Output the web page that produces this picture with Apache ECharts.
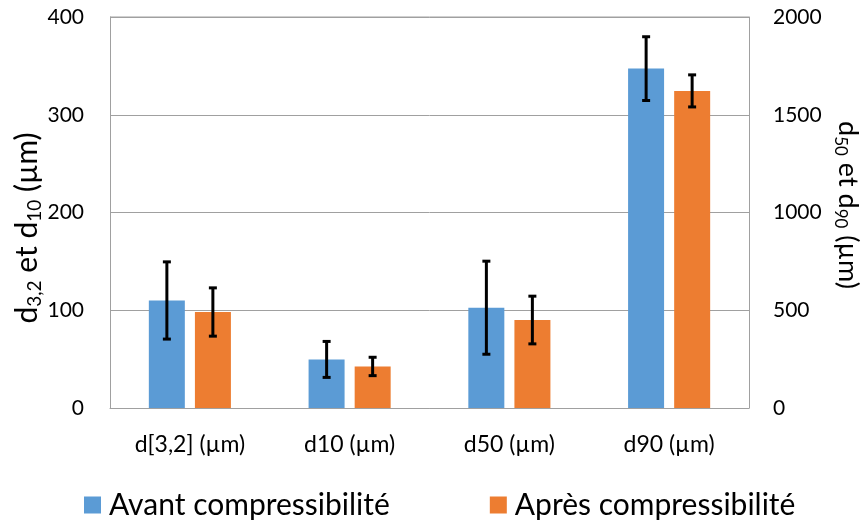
<!DOCTYPE html>
<html>
<head>
<meta charset="utf-8">
<script src="https://cdn.jsdelivr.net/npm/echarts@6/dist/echarts.min.js"></script>
<style>html,body{margin:0;padding:0;background:#fff;}#c{width:864px;height:522px;}</style>
</head>
<body>
<div id="c"></div>
<script>
// ---- data ----
const categories = ['d[3,2] (µm)', 'd10 (µm)', 'd50 (µm)', 'd90 (µm)'];
const seriesNames = ['Avant compressibilité', 'Après compressibilité'];
// left axis (d3,2 and d10), µm
const avantLeft = [110, 49.7, null, null];
const apresLeft = [98.2, 42.5, null, null];
// right axis (d50 and d90), µm
const avantRight = [null, null, 513, 1736];
const apresRight = [null, null, 450, 1622];
// error (± standard deviation)
const avantErr = [39.5, 18.4, 238, 163];
const apresErr = [24.7, 9.4, 122, 82];
const leftTicks = [0, 100, 200, 300, 400];
const rightTicks = [0, 500, 1000, 1500, 2000];

const FONT = 'Lato';
const BLUE = '#5B9BD5', ORANGE = '#ED7D31';

function errData(vals, errs) {
  const out = [];
  vals.forEach((v, i) => { if (v != null) out.push([i, v, errs[i]]); });
  return out;
}
function makeErr(offset) {
  return function (params, api) {
    const i = api.value(0), v = api.value(1), e = api.value(2);
    const top = api.coord([i, v + e]);
    const bot = api.coord([i, v - e]);
    const x = top[0] + offset;
    const cap = 4;
    const st = { stroke: '#000', lineWidth: 3 };
    return {
      type: 'group',
      children: [
        { type: 'line', shape: { x1: x, y1: top[1], x2: x, y2: bot[1] }, style: st },
        { type: 'line', shape: { x1: x - cap, y1: top[1], x2: x + cap, y2: top[1] }, style: st },
        { type: 'line', shape: { x1: x - cap, y1: bot[1], x2: x + cap, y2: bot[1] }, style: st }
      ]
    };
  };
}

const chart = echarts.init(document.getElementById('c'), null, { renderer: 'canvas' });
const gridColor = '#A0A0A0';
const option = {
  animation: false,
  textStyle: { fontFamily: FONT },
  grid: { left: 110, right: 115, top: 17, bottom: 114, show: false },
  legend: {
    data: seriesNames,
    left: 84, top: 490, padding: 0,
    icon: 'rect', itemWidth: 17, itemHeight: 17, itemGap: 100,
    textStyle: { fontFamily: FONT, fontSize: 30, lineHeight: 30, color: '#000', padding: [0, 0, 0, 3] }
  },
  xAxis: {
    type: 'category', data: categories,
    axisLine: { lineStyle: { color: gridColor, width: 1 } },
    axisTick: { show: false },
    axisLabel: { fontFamily: FONT, fontSize: 23, color: '#000', margin: 25 }
  },
  yAxis: [
    {
      type: 'value', min: 0, max: 400, interval: 100, position: 'left',
      axisLine: { show: true, lineStyle: { color: gridColor } },
      axisTick: { show: false },
      splitLine: { lineStyle: { color: gridColor, width: 1 } },
      axisLabel: { fontFamily: FONT, fontSize: 21, color: '#000', margin: 26,
        formatter: v => leftTicks.indexOf(v) >= 0 ? String(v) : '' }
    },
    {
      type: 'value', min: 0, max: 2000, interval: 500, position: 'right',
      axisLine: { show: true, lineStyle: { color: gridColor } },
      axisTick: { show: false },
      splitLine: { show: false },
      axisLabel: { fontFamily: FONT, fontSize: 21, color: '#000', margin: 24,
        formatter: v => rightTicks.indexOf(v) >= 0 ? String(v) : '' }
    }
  ],
  graphic: [
    {
      type: 'text', x: 27, y: 228, rotation: Math.PI / 2,
      style: {
        text: '{a|d}{s|3,2}{a| et d}{s|10}{a| (µm)}',
        align: 'center', verticalAlign: 'middle', fill: '#000',
        rich: {
          a: { fontFamily: FONT, fontSize: 30, lineHeight: 34, verticalAlign: 'middle' },
          s: { fontFamily: FONT, fontSize: 19, lineHeight: 34, verticalAlign: 'bottom' }
        }
      }
    },
    {
      type: 'text', x: 848, y: 205, rotation: -Math.PI / 2,
      style: {
        text: '{a|d}{s|50}{a| et d}{s|90}{a| (µm)}',
        align: 'center', verticalAlign: 'middle', fill: '#000',
        rich: {
          a: { fontFamily: FONT, fontSize: 27, lineHeight: 32, verticalAlign: 'middle' },
          s: { fontFamily: FONT, fontSize: 17, lineHeight: 32, verticalAlign: 'bottom' }
        }
      }
    },
    {
      type: 'line', shape: { x1: 110, y1: 17, x2: 749, y2: 17 },
      style: { stroke: gridColor, lineWidth: 1 }
    }
  ],
  series: [
    { name: seriesNames[0], type: 'bar', yAxisIndex: 0, stack: 'avant', data: avantLeft,
      barWidth: 36, barGap: '28%', itemStyle: { color: BLUE } },
    { name: seriesNames[1], type: 'bar', yAxisIndex: 0, stack: 'apres', data: apresLeft,
      barWidth: 36, barGap: '28%', itemStyle: { color: ORANGE } },
    { name: seriesNames[0], type: 'bar', yAxisIndex: 1, stack: 'avant', data: avantRight,
      barWidth: 36, barGap: '28%', itemStyle: { color: BLUE } },
    { name: seriesNames[1], type: 'bar', yAxisIndex: 1, stack: 'apres', data: apresRight,
      barWidth: 36, barGap: '28%', itemStyle: { color: ORANGE } },
    { name: 'errAvantL', type: 'custom', yAxisIndex: 0, renderItem: makeErr(-23), data: errData(avantLeft, avantErr), z: 5 },
    { name: 'errApresL', type: 'custom', yAxisIndex: 0, renderItem: makeErr(23), data: errData(apresLeft, apresErr), z: 5 },
    { name: 'errAvantR', type: 'custom', yAxisIndex: 1, renderItem: makeErr(-23), data: errData(avantRight, avantErr), z: 5 },
    { name: 'errApresR', type: 'custom', yAxisIndex: 1, renderItem: makeErr(23), data: errData(apresRight, apresErr), z: 5 }
  ]
};
chart.setOption(option);
</script>
</body>
</html>
